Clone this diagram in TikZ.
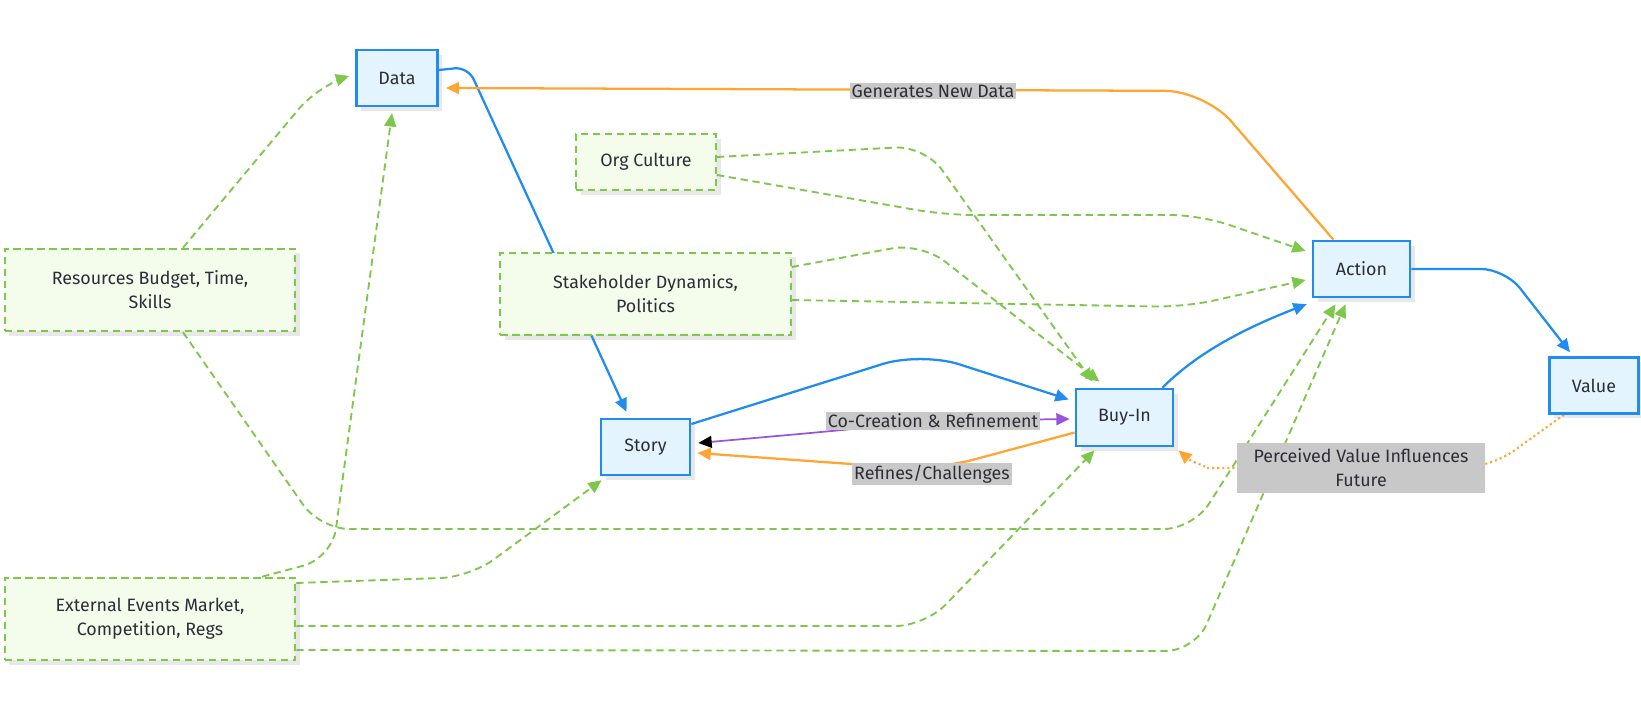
\documentclass[tikz,border=0pt]{standalone}
\usepackage{fontspec}
\setmainfont{Fira Sans}
\usetikzlibrary{arrows.meta,calc,shadows}

\definecolor{flowblue}{RGB}{33,140,240}
\definecolor{boxblue}{RGB}{228,244,254}
\definecolor{ctxgreen}{RGB}{125,200,75}
\definecolor{ctxfill}{RGB}{244,252,236}
\definecolor{loopor}{RGB}{255,166,50}
\definecolor{copurple}{RGB}{150,85,220}
\definecolor{lblgray}{RGB}{200,200,200}
\definecolor{inkgray}{RGB}{45,45,55}

\pgfdeclarelayer{wires}
\pgfsetlayers{wires,main}

\tikzset{every picture/.style={line width=0.75pt}}
\tikzset{
  stepbox/.style={draw=flowblue, fill=boxblue, line width=1.8pt, text=inkgray,
    inner sep=0pt, align=center, drop shadow={shadow xshift=3.5pt, shadow yshift=-3.5pt, opacity=0.18}},
  ctxbox/.style={draw=ctxgreen, fill=ctxfill, line width=1.4pt, dash pattern={on 5.5pt off 3.5pt},
    text=inkgray, inner sep=0pt, align=center, minimum width=218pt, minimum height=62pt,
    drop shadow={shadow xshift=3.5pt, shadow yshift=-3.5pt, opacity=0.18}},
  edgelbl/.style={fill=lblgray, text=inkgray, inner sep=1.5pt, align=center},
  flow/.style={draw=flowblue, line width=1.7pt, rounded corners=18pt, -{Triangle[length=10pt,width=9pt]}},
  ctxlink/.style={draw=ctxgreen, line width=1.4pt, dash pattern={on 5.5pt off 3.5pt}, rounded corners=22pt,
    -{Triangle[length=10pt,width=9pt]}},
  feedback/.style={draw=loopor, line width=1.7pt, rounded corners=22pt, -{Triangle[length=10pt,width=9pt]}},
  perceived/.style={draw=loopor, line width=1.6pt, dash pattern={on 1.6pt off 2.2pt}, rounded corners=22pt,
    -{Triangle[length=10pt,width=9pt]}},
  cocreate/.style={draw=copurple, line width=1.3pt, rounded corners=20pt,
    {Triangle[length=10pt,width=9pt,color=black]}-{Triangle[length=10pt,width=9pt]}}
}

\begin{document}
\begin{tikzpicture}[x=0.75pt,y=0.75pt,yscale=-1,xscale=1,font=\fontsize{13.4}{18}\selectfont]
\useasboundingbox (0,0) rectangle (1641,709);

% Main chain
\node [stepbox, minimum width=61pt, minimum height=42pt] (data) at (397,78) {Data};
\node [stepbox, minimum width=67pt, minimum height=42pt] (story) at (645.5,447) {Story};
\node [stepbox, minimum width=73pt, minimum height=43pt] (buyin) at (1124.5,417.5) {Buy-In};
\node [stepbox, minimum width=73pt, minimum height=42pt] (action) at (1361.5,269) {Action};
\node [stepbox, minimum width=67pt, minimum height=42pt] (value) at (1594,385.5) {Value};

% Context boxes
\node [ctxbox, minimum width=105pt, minimum height=42pt] (org) at (646,162) {Org Culture};
\node [ctxbox] (stake) at (645.5,294) {Stakeholder Dynamics,\\Politics};
\node [ctxbox] (res) at (150,290) {Resources Budget, Time,\\Skills};
\node [ctxbox] (ext) at (150,619) {External Events Market,\\Competition, Regs};

\begin{pgfonlayer}{wires}
%Blue flow
\draw [flow, rounded corners=10pt] ($(data.east)+(0,-8)$) -- (468,67) -- ($(story.north)+(-19,-6)$);
\draw [flow, rounded corners=30pt] ($(story.east)+(0,-23)$) -- (921,352) -- ($(buyin.west)+(-6,-18)$);
\draw [flow] ($(buyin.north)+(38,0)$) .. controls (1195,355) and (1240,330) .. ($(action.south west)+(-5,6)$);
\draw [flow] (action.east) -- (1505,269) -- ($(value.north)+(-24,-4)$);

%Feedback loops
\draw [feedback, rounded corners=30pt] ($(action.north)+(-28,0)$) -- (1205,91) -- ($(data.east)+(7,10)$);
\draw [feedback, rounded corners=30pt] ($(buyin.west)+(0,15)$) -- (935,470) -- ($(story.east)+(6,6)$);
\draw [cocreate] ($(story.east)+(7,-4)$) -- (822,432) -- (933,421) -- ($(buyin.west)+(-5,1.5)$);
\draw [perceived] ($(value.south)+(-30,0)$) -- (1490,468) -- (1236,468) .. controls (1210,468) and (1192,462) .. ($(buyin.south east)+(4,3)$);

%Context influences
\draw [ctxlink] ($(res.north)+(33,0)$) -- (318,86) -- ($(data.west)+(-6,-2)$);
\draw [ctxlink] ($(ext.north)+(112,0)$) -- (332,558) -- ($(data.south)+(-5,6)$);
\draw [ctxlink] ($(res.south)+(33,0)$) -- (320,529) -- (1193,529) -- ($(action.south)+(-26,6)$);
\draw [ctxlink] ($(ext.east)+(0,-36)$) -- (470,577) -- ($(story.south west)+(2,4)$);
\draw [ctxlink] ($(ext.east)+(0,7)$) -- (925,626) -- ($(buyin.south)+(-30,3)$);
\draw [ctxlink] ($(ext.east)+(0,31)$) -- (1195,651) -- ($(action.south)+(-16,6)$);
\draw [ctxlink] ($(org.east)+(0,-5)$) -- (925,146) -- ($(buyin.north)+(-32,-6)$);
\draw [ctxlink] ($(org.east)+(0,13)$) -- (945,215) -- (1200,215) -- ($(action.west)+(-6,-18)$);
\draw [ctxlink] ($(stake.east)+(0,-27)$) -- (921,243) -- ($(buyin.north)+(-25,-6)$);
\draw [ctxlink] ($(stake.east)+(0,6)$) -- (1185,307) -- ($(action.west)+(-6,11)$);
\end{pgfonlayer}

% Text Node
\draw (933,91) node [edgelbl] (gen) {Generates New Data};
% Text Node
\draw (932,474) node [edgelbl] (refines) {Refines/Challenges};
% Text Node
\draw (933,421) node [edgelbl] (cocr) {Co-Creation \& Refinement};
% Text Node
\draw (1361,468) node [edgelbl, minimum width=186pt, minimum height=38pt, inner sep=0pt] (perc) {Perceived Value Influences\\Future};

\end{tikzpicture}
\end{document}
